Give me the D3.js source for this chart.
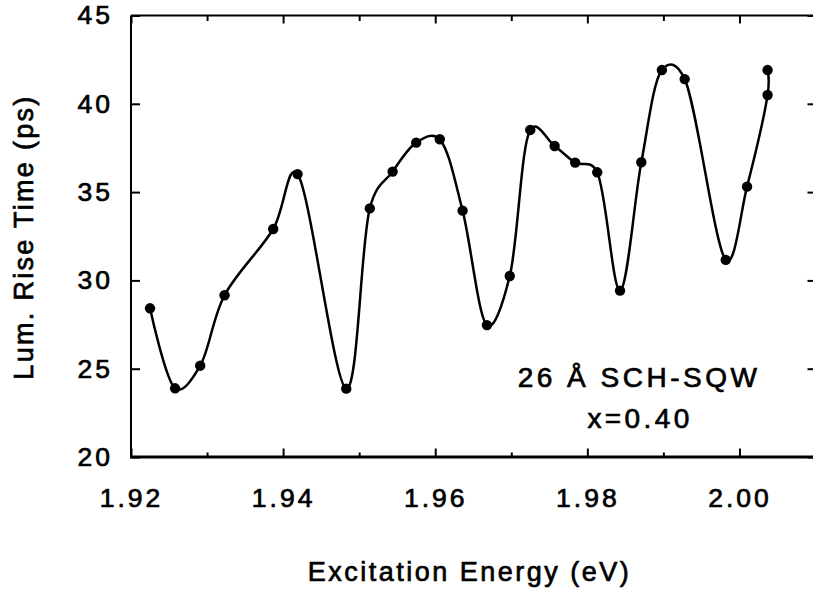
<!DOCTYPE html>
<html>
<head>
<meta charset="utf-8">
<script src="https://cdn.jsdelivr.net/npm/d3@7/dist/d3.min.js"></script>
<style>
  html, body { margin: 0; padding: 0; background: #fff; }
  svg { display: block; }
  text { font-family: "Liberation Sans", Arial, Helvetica, sans-serif; fill: #000; stroke: #000; stroke-width: 0.7px; }
</style>
</head>
<body>
<svg id="chart" width="813" height="591"></svg>
<script>
// ---- data ----
const energy = [1.9225, 1.9258, 1.9291, 1.9323, 1.9387, 1.9419, 1.9483, 1.9514, 1.9544, 1.9575,
                1.9606, 1.9636, 1.9668, 1.9698, 1.9725, 1.9757, 1.9784, 1.9813, 1.9843, 1.9871,
                1.9898, 1.9928, 1.9982, 2.0010, 2.0037, 2.0037];
const riseTime = [28.42, 23.89, 25.17, 29.16, 32.91, 36.02, 23.87, 34.08, 36.16, 37.80,
                  37.99, 33.95, 27.47, 30.25, 38.52, 37.61, 36.67, 36.12, 29.42, 36.69,
                  41.91, 41.40, 31.16, 35.31, 40.50, 41.91];
const xMajorTicks = [1.92, 1.94, 1.96, 1.98, 2.00];
const xMinorTicks = [1.93, 1.95, 1.97, 1.99, 2.01];
const yTicks = [20, 25, 30, 35, 40, 45];
const xTitle = "Excitation Energy (eV)";
const yTitle = "Lum. Rise Time (ps)";
const noteLines = ["26 Å SCH-SQW", "x=0.40"];

(function () {
// ---- layout ----
const svg = d3.select("#chart");
const pL = 131, pR = 815.5, pT = 15.5, pB = 457;
const x = d3.scaleLinear().domain([1.92, 2.01]).range([pL, pR]);
const y = d3.scaleLinear().domain([20, 45]).range([pB, pT]);

const fmt2 = d3.format(".2f");

// bottom axis (major, with labels)
svg.append("g").attr("transform", `translate(0,${pB})`)
  .call(d3.axisBottom(x).tickValues(xMajorTicks).tickSize(-8.5).tickPadding(31).tickFormat(fmt2));
// bottom minor
svg.append("g").attr("transform", `translate(0,${pB})`)
  .call(d3.axisBottom(x).tickValues(xMinorTicks).tickSize(-4.5).tickFormat(""));
// top axis
svg.append("g").attr("transform", `translate(0,${pT})`)
  .call(d3.axisTop(x).tickValues(xMajorTicks).tickSize(-8).tickFormat(""));
svg.append("g").attr("transform", `translate(0,${pT})`)
  .call(d3.axisTop(x).tickValues(xMinorTicks).tickSize(-5.5).tickFormat(""));
// left axis
svg.append("g").attr("transform", `translate(${pL},0)`)
  .call(d3.axisLeft(y).tickValues(yTicks).tickSize(-9).tickPadding(18).tickFormat(d3.format("d")));
// right axis
svg.append("g").attr("transform", `translate(${pR},0)`)
  .call(d3.axisRight(y).tickValues(yTicks).tickSize(-8).tickFormat(""));

svg.selectAll(".domain").remove();
svg.selectAll(".tick line").attr("stroke", "#000").attr("stroke-width", 2);
svg.selectAll(".tick text")
  .attr("font-size", 26.5)
  .attr("fill", "#000")
  .style("letter-spacing", "3px");

// frame
svg.append("line").attr("x1", pL).attr("x2", pR).attr("y1", pT).attr("y2", pT)
  .attr("stroke", "#000").attr("stroke-width", 2);
svg.append("line").attr("x1", pL).attr("x2", pL).attr("y1", pT).attr("y2", pB)
  .attr("stroke", "#000").attr("stroke-width", 2);
svg.append("line").attr("x1", pR).attr("x2", pR).attr("y1", pT).attr("y2", pB)
  .attr("stroke", "#000").attr("stroke-width", 2);
svg.append("line").attr("x1", pL - 1).attr("x2", pR).attr("y1", pB).attr("y2", pB)
  .attr("stroke", "#000").attr("stroke-width", 3);

// curve
const pts = energy.map((e, i) => [x(e), y(riseTime[i])]);
const line = d3.line().curve(d3.curveCatmullRom.alpha(0.2));
svg.append("path").attr("d", line(pts))
  .attr("fill", "none").attr("stroke", "#000").attr("stroke-width", 2.5);

// points
svg.append("g").selectAll("circle").data(pts).join("circle")
  .attr("cx", d => d[0]).attr("cy", d => d[1]).attr("r", 5.2).attr("fill", "#000");

// axis titles
svg.append("text").attr("x", 469.5).attr("y", 581).attr("text-anchor", "middle")
  .attr("font-size", 27).style("letter-spacing", "2.5px").text(xTitle);
svg.append("text").attr("transform", "translate(33,237) rotate(-90)").attr("text-anchor", "middle")
  .attr("font-size", 27).style("letter-spacing", "2.3px").text(yTitle);

// annotation
svg.append("text").attr("x", 639).attr("y", 387).attr("text-anchor", "middle")
  .attr("font-size", 28).style("letter-spacing", "3.5px").text(noteLines[0]);
svg.append("text").attr("x", 640).attr("y", 428).attr("text-anchor", "middle")
  .attr("font-size", 28).style("letter-spacing", "3.4px").text(noteLines[1]);
})();
</script>
</body>
</html>
